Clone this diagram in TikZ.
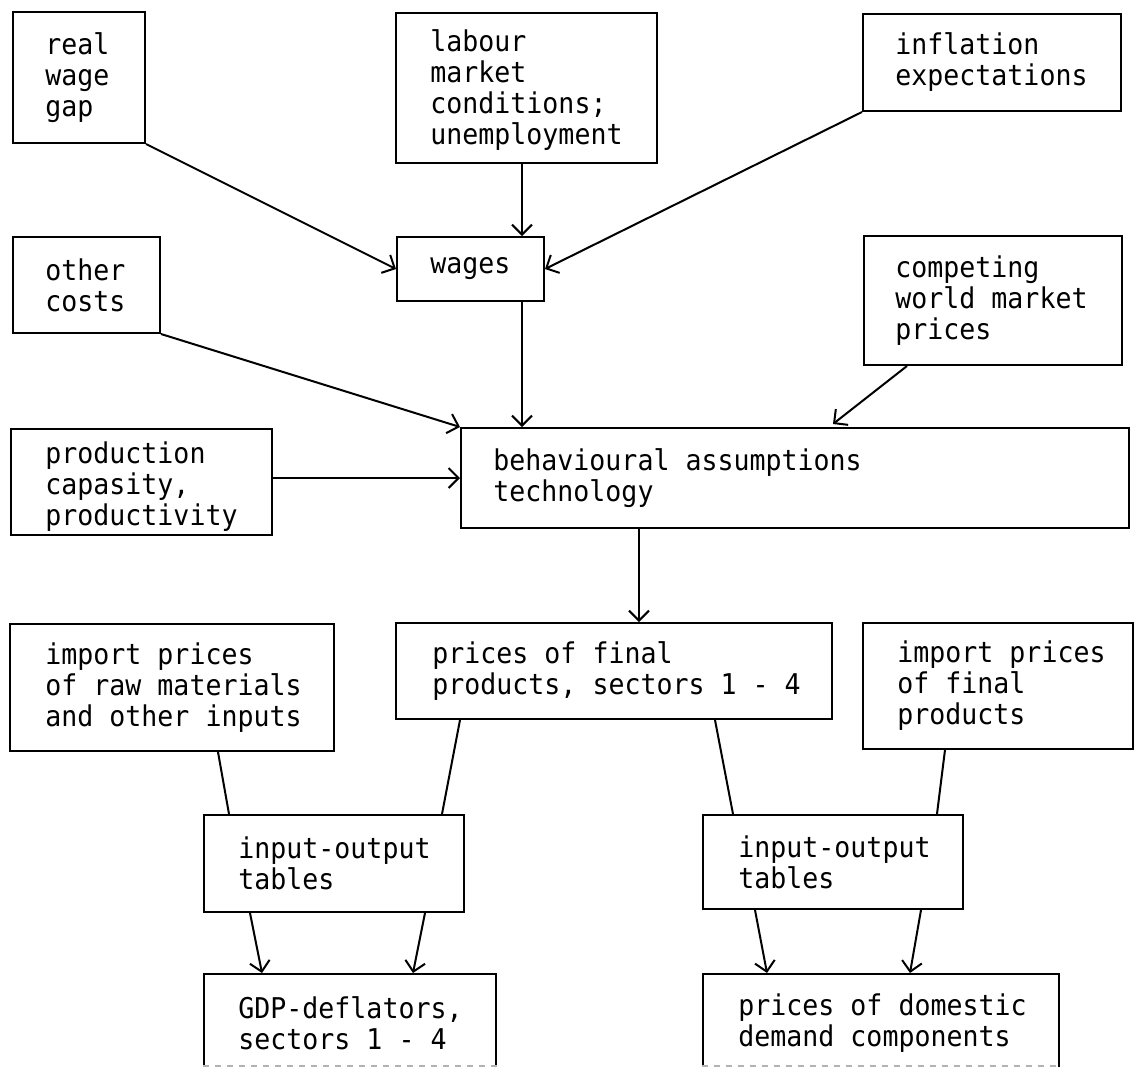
\documentclass[tikz,border=0pt]{standalone}
\usepackage{fontspec}
\newfontfamily\tw[FakeStretch=0.93]{DejaVu Sans Mono}
\usetikzlibrary{arrows.meta}
\begin{document}
\begin{tikzpicture}[x=0.5pt, y=-0.5pt,
  box/.style={draw, line width=1pt, anchor=north west, inner sep=0pt},
  txt/.style={anchor=west, align=left, inner sep=0pt, font={\tw\fontsize{14.3pt}{15.5pt}\selectfont}},
  arr/.style={line width=1pt, -{Straight Barb[length=5pt,width=10pt,line width=1pt]}},
  ln/.style={line width=1pt},
  faint/.style={black!30, dashed, line width=0.6pt}]
\useasboundingbox (0,0) rectangle (1137,1067);
\clip (0,0) rectangle (1137,1067);

% boxes
\node[box, minimum width=66pt, minimum height=65.5pt] (rwg) at (12,11) {};
\node[txt] (rwgT) at ([xshift=16.5pt]rwg.west) {real\\wage\\gap};

\node[box, minimum width=130.5pt, minimum height=75pt] (lab) at (395,12) {};
\node[txt] (labT) at ([xshift=17.5pt,yshift=-1pt]lab.west) {labour\\market\\conditions;\\unemployment};

\node[box, minimum width=129pt, minimum height=48.5pt] (inf) at (862,13) {};
\node[txt] (infT) at ([xshift=16.5pt]inf.west) {inflation\\expectations};

\node[box, minimum width=73.5pt, minimum height=32pt] (wag) at (396,236) {};
\node[txt] (wagT) at ([xshift=17pt]wag.west) {wages};

\node[box, minimum width=73.5pt, minimum height=48pt] (oth) at (12,236) {};
\node[txt] (othT) at ([xshift=16.5pt]oth.west) {other\\costs};

\node[box, minimum width=129pt, minimum height=64.5pt] (cmp) at (863,235) {};
\node[txt] (cmpT) at ([xshift=16pt]cmp.west) {competing\\world market\\prices};

\node[box, minimum width=130.5pt, minimum height=53pt] (prd) at (10,428) {};
\node[txt] (prdT) at ([xshift=17.5pt,yshift=-2.5pt]prd.west) {production\\capasity,\\productivity};

\node[box, minimum width=334pt, minimum height=50pt] (beh) at (460,427) {};
\node[txt] (behT) at ([xshift=16.5pt]beh.west) {behavioural assumptions\\technology};

\node[box, minimum width=218pt, minimum height=48pt] (pff) at (395,622) {};
\node[txt] (pffT) at ([xshift=18.5pt]pff.west) {prices of final\\products, sectors 1 - 4};

\node[box, minimum width=162pt, minimum height=63.5pt] (irw) at (9,623) {};
\node[txt] (irwT) at ([xshift=18pt]irw.west) {import prices\\of raw materials\\and other inputs};

\node[box, minimum width=135pt, minimum height=63pt] (ifn) at (862,622) {};
\node[txt] (ifnT) at ([xshift=17.5pt]ifn.west) {import prices\\of final\\products};

\node[box, minimum width=130pt, minimum height=48.5pt] (iol) at (203,814) {};
\node[txt] (iolT) at ([xshift=17.5pt]iol.west) {input-output\\tables};

\node[box, minimum width=130pt, minimum height=47pt] (ior) at (702,814) {};
\node[txt] (iorT) at ([xshift=18pt]ior.west) {input-output\\tables};

\node[box, minimum width=146pt, minimum height=49.5pt] (gdp) at (203,973) {};
\node[txt] (gdpT) at ([xshift=17.5pt]gdp.west) {GDP-deflators,\\sectors 1 - 4};

\node[box, minimum width=178pt, minimum height=49.5pt] (dom) at (702,973) {};
\node[txt] (domT) at ([xshift=18pt]dom.west) {prices of domestic\\demand components};

\draw[faint] ([yshift=4pt]gdp.south west) -- ([yshift=4pt]gdp.south east);
\draw[faint] ([yshift=4pt]dom.south west) -- ([yshift=4pt]dom.south east);

% connectors, upper part
\draw[arr] (rwg.south east) -- (wag.west);
\draw[arr] ([xshift=63.5pt]lab.south west) coordinate (c1) -- (c1 |- wag.north);
\draw[arr] (inf.south west) -- (wag.east);
\draw[arr] (oth.south east) -- (beh.north west);
\draw[arr] ([xshift=63pt]wag.south west) coordinate (c2) -- (c2 |- beh.north);
\draw[arr] ([xshift=22pt]cmp.south west) -- ([xshift=186.5pt,yshift=1.5pt]beh.north west);
\draw[arr] ([yshift=2pt]prd.east) coordinate (c4) -- (c4 -| beh.west);
\draw[arr] ([xshift=89.5pt]beh.south west) coordinate (c3) -- (c3 |- pff.north);

% connectors, lower part
\draw[ln] ([xshift=104.5pt]irw.south west) -- ([xshift=13pt]iol.north west);
\draw[ln] ([xshift=32.5pt]pff.south west) -- ([xshift=119.5pt]iol.north west);
\draw[ln] ([xshift=160pt]pff.south west) -- ([xshift=15.5pt]ior.north west);
\draw[ln] ([xshift=41.5pt]ifn.south west) -- ([xshift=117.5pt]ior.north west);
\draw[arr] ([xshift=23.5pt]iol.south west) -- ([xshift=29.5pt]gdp.north west);
\draw[arr] ([xshift=111pt]iol.south west) -- ([xshift=105pt]gdp.north west);
\draw[arr] ([xshift=26.5pt]ior.south west) -- ([xshift=32.5pt]dom.north west);
\draw[arr] ([xshift=109.5pt]ior.south west) -- ([xshift=104pt]dom.north west);
\end{tikzpicture}
\end{document}
